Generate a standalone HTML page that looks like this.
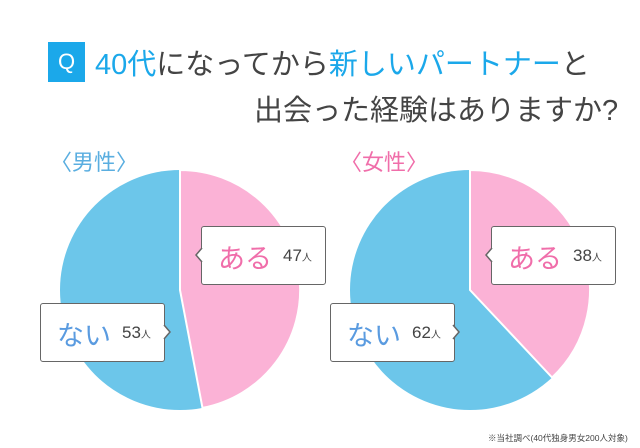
<!DOCTYPE html>
<html><head><meta charset="utf-8"><style>
body{margin:0;width:640px;height:448px;background:#fff;overflow:hidden;position:relative;font-family:"Liberation Sans","Noto Sans CJK JP",sans-serif;color:#444}
.a{position:absolute;white-space:nowrap}
.box{position:absolute;background:#fff;border:1.5px solid #666;border-radius:3px;box-sizing:border-box;height:59px;width:125px}
.big{position:absolute;top:10px;font-size:27px}
.n{position:absolute;top:19px;font-size:17px;color:#444}
.n small{font-size:10px}
</style></head><body>
<div class="a" style="left:48px;top:42px;width:37px;height:40px;background:#1ba8ea;color:#fff;font-size:22px;text-align:center;line-height:40px">Q</div>
<div class="a" style="left:95px;top:41px;font-size:29px"><span style="color:#1ba8ea">40代</span>になってから<span style="color:#1ba8ea">新しいパートナー</span>と</div>
<div class="a" style="left:254px;top:87px;font-size:29px">出会った経験はありますか?</div>
<div class="a" style="left:50px;top:145px;font-size:22px;color:#5aaee0">〈男性〉</div>
<div class="a" style="left:340px;top:145px;font-size:22px;color:#f06eaa">〈女性〉</div>
<svg class="a" style="left:0;top:0" width="640" height="448">
<circle cx="180" cy="290" r="120" fill="#6cc6ea"/>
<path d="M180,290 L180,170 A120,120 0 0 1 202.5,407.9 Z" fill="#fbb2d6" stroke="#fff" stroke-width="2"/>
<circle cx="470" cy="290" r="120" fill="#6cc6ea"/>
<path d="M470,290 L470,170 A120,120 0 0 1 552.1,377.5 Z" fill="#fbb2d6" stroke="#fff" stroke-width="2"/>
</svg>
<div class="box" style="left:201px;top:226px"><span class="big" style="left:16px;color:#f06eaa">ある</span><span class="n" style="left:81px">47<small>人</small></span></div>
<div class="box" style="left:40px;top:303px"><span class="big" style="left:16px;color:#5a9be0">ない</span><span class="n" style="left:81px">53<small>人</small></span></div>
<div class="box" style="left:491px;top:226px"><span class="big" style="left:16px;color:#f06eaa">ある</span><span class="n" style="left:81px">38<small>人</small></span></div>
<div class="box" style="left:330px;top:303px"><span class="big" style="left:16px;color:#5a9be0">ない</span><span class="n" style="left:81px">62<small>人</small></span></div>
<svg class="a" style="left:0;top:0" width="640" height="448">
<path d="M202,248 L196,255 L202,262" fill="#fff" stroke="#666" stroke-width="1.5"/>
<path d="M164,325 L170,332 L164,339" fill="#fff" stroke="#666" stroke-width="1.5"/>
<path d="M492,248 L486,255 L492,262" fill="#fff" stroke="#666" stroke-width="1.5"/>
<path d="M453,325 L459,332 L453,339" fill="#fff" stroke="#666" stroke-width="1.5"/>
</svg>
<div class="a" style="left:488px;top:432px;font-size:8.5px;color:#444">※当社調べ(40代独身男女200人対象)</div>
</body></html>
